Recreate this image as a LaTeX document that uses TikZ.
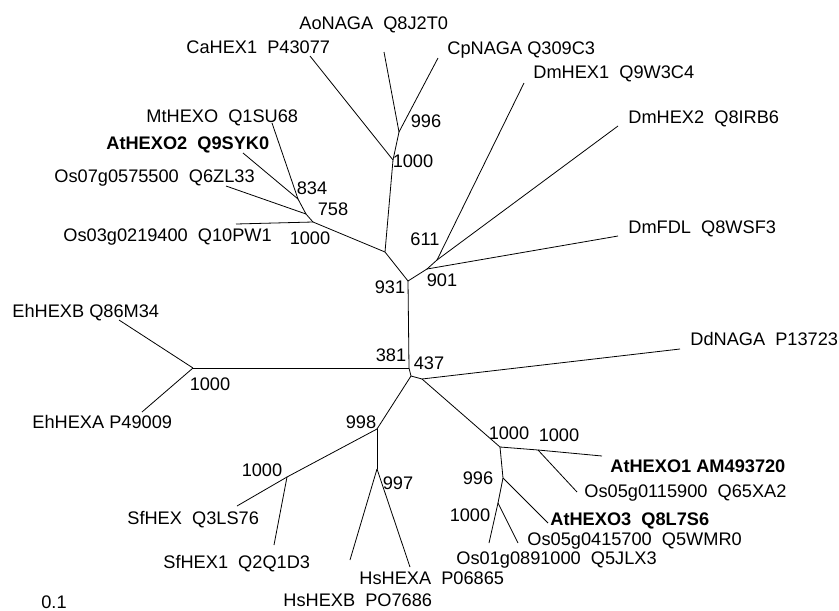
\documentclass[tikz,border=0pt]{standalone}
\usepackage{fontspec}
\setmainfont{Liberation Sans}
\begin{document}
\begin{tikzpicture}[x=1pt,y=-1pt,line width=0.8pt,
  every node/.style={inner sep=0pt,font=\fontsize{18.2}{21}\selectfont},
  leaf/.style={anchor=base west},
  boot/.style={anchor=center}]
  \useasboundingbox (0,0) rectangle (839,611);

  % inner nodes
  \coordinate (n931) at (408,281);
  \coordinate (n381) at (409,368);
  \coordinate (n437) at (411,376);
  \coordinate (nDd) at (422,379);
  \coordinate (n901) at (427,269);
  \coordinate (n611) at (437,260);
  \coordinate (nUp) at (385,252);
  \coordinate (nFun) at (393,160);
  \coordinate (nAo) at (399,132);
  \coordinate (nPl) at (313,222);
  \coordinate (n758) at (306,214);
  \coordinate (n834) at (298,199);
  \coordinate (nEh) at (193,368);
  \coordinate (n998) at (377,429);
  \coordinate (n997) at (377,469);
  \coordinate (nSf) at (287,477);
  \coordinate (nAt) at (500,447);
  \coordinate (nAt1) at (538,450);
  \coordinate (n996) at (503,478);
  \coordinate (nOs) at (498,503);

  % leaf ends
  \coordinate (tCa) at (310,56);
  \coordinate (tAo) at (384,52);
  \coordinate (tCp) at (438,58);
  \coordinate (tDm1) at (524,83);
  \coordinate (tDm2) at (618,126);
  \coordinate (tDmF) at (618,236);
  \coordinate (tDd) at (680,349);
  \coordinate (tMt) at (272,123);
  \coordinate (tAt2) at (243,153);
  \coordinate (tOs07) at (226,186);
  \coordinate (tOs03) at (236,224);
  \coordinate (tEhB) at (119,320);
  \coordinate (tEhA) at (142,412);
  \coordinate (tSf) at (237,506);
  \coordinate (tSf1) at (274,545);
  \coordinate (tHsB) at (350,560);
  \coordinate (tHsA) at (410,567);
  \coordinate (tAt1) at (602,456);
  \coordinate (tOs0511) at (577,492);
  \coordinate (tAt3) at (548,523);
  \coordinate (tOs0541) at (518,543);
  \coordinate (tOs01) at (489,543);

  % leaf labels
  \node[leaf] (Ca) at (186,53.5) {CaHEX1\ \ P43077};
  \node[leaf] (Ao) at (299,29.5) {AoNAGA\ \ Q8J2T0};
  \node[leaf] (Cp) at (447,54.5) {CpNAGA Q309C3};
  \node[leaf] (Dm1) at (533,78.5) {DmHEX1\ \ Q9W3C4};
  \node[leaf] (Dm2) at (628,123.5) {DmHEX2\ \ Q8IRB6};
  \node[leaf] (DmF) at (628,233.5) {DmFDL\ \ Q8WSF3};
  \node[leaf] (Dd) at (690,345.5) {DdNAGA\ \ P13723};
  \node[leaf] (Mt) at (146,122.5) {MtHEXO\ \ Q1SU68};
  \node[leaf] (At2) at (106,149.5) {\bfseries AtHEXO2\ \ Q9SYK0};
  \node[leaf] (Os07) at (54,182.5) {Os07g0575500\ \ Q6ZL33};
  \node[leaf] (Os03) at (63,241.5) {Os03g0219400\ \ Q10PW1};
  \node[leaf] (EhB) at (12,317.5) {EhHEXB Q86M34};
  \node[leaf] (EhA) at (32,428.5) {EhHEXA P49009};
  \node[leaf] (Sf) at (127,524.5) {SfHEX\ \ Q3LS76};
  \node[leaf] (Sf1) at (163,568.5) {SfHEX1\ \ Q2Q1D3};
  \node[leaf] (HsA) at (359,584.5) {HsHEXA\ \ P06865};
  \node[leaf] (HsB) at (283,606.5) {HsHEXB\ \ PO7686};
  \node[leaf] (At1) at (610,472.5) {\bfseries AtHEXO1 AM493720};
  \node[leaf] (Os0511) at (584,497.5) {Os05g0115900\ \ Q65XA2};
  \node[leaf] (At3) at (550,525.5) {\bfseries AtHEXO3\ \ Q8L7S6};
  \node[leaf] (Os0541) at (527,545.5) {Os05g0415700\ \ Q5WMR0};
  \node[leaf] (Os01) at (456,564.5) {Os01g0891000\ \ Q5JLX3};
  \node (scale) at (54,602) {0.1};

  % bootstrap values
  \node[boot] (b611) at (425,239) {611};
  \node[boot] (b901) at (442,280) {901};
  \node[boot] (b931) at (390,287) {931};
  \node[boot] (b381) at (391,355) {381};
  \node[boot] (b437) at (429,363) {437};
  \node[boot] (b996a) at (426,121) {996};
  \node[boot] (b1000a) at (413,161) {1000};
  \node[boot] (b834) at (312,188) {834};
  \node[boot] (b758) at (333,209) {758};
  \node[boot] (b1000b) at (310,238) {1000};
  \node[boot] (b1000c) at (210,384) {1000};
  \node[boot] (b998) at (361,422) {998};
  \node[boot] (b997) at (398,483) {997};
  \node[boot] (b1000d) at (262,470) {1000};
  \node[boot] (b1000e) at (509,433) {1000};
  \node[boot] (b1000f) at (559,435) {1000};
  \node[boot] (b996b) at (478,478) {996};
  \node[boot] (b1000g) at (470,515) {1000};

  % branches
  \draw (n931) -- (n381);
  \draw (n381) -- (n437);
  \draw (n437) -- (nDd);
  \draw (nDd) -- (tDd);
  \draw (n931) -- (n901);
  \draw (n901) -- (n611);
  \draw (n901) -- (tDmF);
  \draw (n611) -- (tDm1);
  \draw (n611) -- (tDm2);
  \draw (n931) -- (nUp);
  \draw (nUp) -- (nFun);
  \draw (nFun) -- (tCa);
  \draw (nFun) -- (nAo);
  \draw (nAo) -- (tAo);
  \draw (nAo) -- (tCp);
  \draw (nUp) -- (nPl);
  \draw (nPl) -- (tOs03);
  \draw (nPl) -- (n758);
  \draw (n758) -- (tOs07);
  \draw (n758) -- (n834);
  \draw (n834) -- (tAt2);
  \draw (n834) -- (tMt);
  \draw (n381) -- (nEh);
  \draw (nEh) -- (tEhB);
  \draw (nEh) -- (tEhA);
  \draw (n437) -- (n998);
  \draw (n998) -- (nSf);
  \draw (nSf) -- (tSf);
  \draw (nSf) -- (tSf1);
  \draw (n998) -- (n997);
  \draw (n997) -- (tHsB);
  \draw (n997) -- (tHsA);
  \draw (nDd) -- (nAt);
  \draw (nAt) -- (nAt1);
  \draw (nAt1) -- (tAt1);
  \draw (nAt1) -- (tOs0511);
  \draw (nAt) -- (n996);
  \draw (n996) -- (tAt3);
  \draw (n996) -- (nOs);
  \draw (nOs) -- (tOs0541);
  \draw (nOs) -- (tOs01);

\end{tikzpicture}
\end{document}
